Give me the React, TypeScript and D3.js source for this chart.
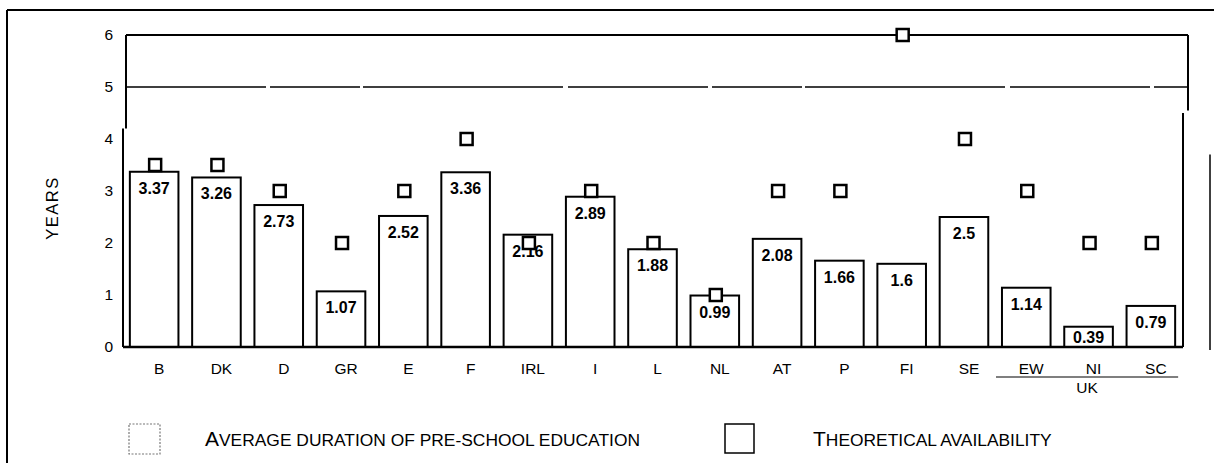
import React from "react";
import * as d3 from "d3";

const categories = ["B", "DK", "D", "GR", "E", "F", "IRL", "I", "L", "NL", "AT", "P", "FI", "SE", "EW", "NI", "SC"];
const avgDuration = [3.37, 3.26, 2.73, 1.07, 2.52, 3.36, 2.16, 2.89, 1.88, 0.99, 2.08, 1.66, 1.6, 2.5, 1.14, 0.39, 0.79];
const theoretical = [3.5, 3.5, 3, 2, 3, 4, 2, 3, 2, 1, 3, 3, 6, 4, 3, 2, 2];
const yTicks = [0, 1, 2, 3, 4, 5, 6];
const ukGroup = ["EW", "NI", "SC"];

const W = 1214;
const H = 463;
const FONT = "'Liberation Sans', Arial, Helvetica, sans-serif";

export default function App() {
  const x = d3.scaleBand<string>().domain(categories).range([123, 1182]).paddingInner(0.22).paddingOuter(0.11);
  const y = d3.scaleLinear().domain([0, 6]).range([347, 35]);
  const bw = x.bandwidth();
  const sq = 12;

  const ukStart = (x(ukGroup[0]) as number) - 6;
  const ukEnd = (x(ukGroup[2]) as number) + bw + 3;

  return (
    <svg width={W} height={H} style={{ position: "absolute", left: 0, top: 0, background: "#fff" }} fontFamily={FONT}>
      <rect x={0} y={0} width={W} height={H} fill="#fff" />
      {/* outer frame */}
      <line x1={7} y1={10} x2={W} y2={10} stroke="#000" strokeWidth={2} />
      <line x1={7} y1={10} x2={7} y2={H} stroke="#000" strokeWidth={2} />

      {/* upper frame */}
      <line x1={126} y1={y(6)} x2={1188} y2={y(6)} stroke="#000" strokeWidth={2} />
      <line x1={126} y1={y(6)} x2={126} y2={y(4.2)} stroke="#000" strokeWidth={2} />
      <line x1={1188} y1={y(6)} x2={1188} y2={y(4.55)} stroke="#000" strokeWidth={2} />
      <line x1={126} y1={y(5)} x2={1187} y2={y(5)} stroke="#000" strokeWidth={1.3} strokeDasharray="140 4 90 3 200 5" />

      {/* lower frame */}
      <line x1={123} y1={y(4.2)} x2={123} y2={y(0)} stroke="#000" strokeWidth={2} />
      <line x1={1183} y1={y(4.5)} x2={1183} y2={y(0)} stroke="#000" strokeWidth={2} />
      <line x1={1210} y1={y(3.7)} x2={1210} y2={y(0) + 3} stroke="#000" strokeWidth={1.5} />

      {/* y ticks */}
      {yTicks.map((t) => (
        <text key={t} x={113} y={y(t) + 5} textAnchor="end" fontSize={15.5}>
          {t}
        </text>
      ))}
      <text transform={`translate(58, ${208}) rotate(-90)`} textAnchor="middle" fontSize={16.5} letterSpacing={1.5}>
        YEARS
      </text>

      {/* bars */}
      {categories.map((c, i) => {
        const x0 = x(c) as number;
        const top = y(avgDuration[i]);
        const ly = Math.min(top + 22, y(0) - 4);
        return (
          <g key={c}>
            <rect x={x0} y={top} width={bw} height={y(0) - top} fill="#fff" stroke="#000" strokeWidth={2} />
            <text x={x0 + bw / 2} y={ly} textAnchor="middle" fontSize={16} fontWeight="bold">
              {avgDuration[i]}
            </text>
          </g>
        );
      })}

      {/* baseline */}
      <line x1={123} y1={y(0)} x2={1183} y2={y(0)} stroke="#000" strokeWidth={2.5} />

      {/* theoretical markers */}
      {categories.map((c, i) => {
        const cx = (x(c) as number) + bw / 2 + 1;
        const cy = y(theoretical[i]);
        return (
          <rect key={c} x={cx - sq / 2} y={cy - sq / 2} width={sq} height={sq} fill="#fff" stroke="#000" strokeWidth={2.5} />
        );
      })}

      {/* x labels */}
      {categories.map((c) => (
        <text key={c} x={(x(c) as number) + bw / 2 + 5} y={374} textAnchor="middle" fontSize={15.5}>
          {c}
        </text>
      ))}
      <line x1={ukStart} y1={377} x2={ukEnd} y2={377} stroke="#000" strokeWidth={1.2} />
      <text x={(ukStart + ukEnd) / 2} y={393} textAnchor="middle" fontSize={15.5}>
        UK
      </text>

      {/* legend */}
      <rect x={129} y={424} width={31} height={30} fill="#fff" stroke="#777" strokeWidth={1.2} strokeDasharray="2 1.5" />
      <text x={205} y={446} fontSize={17.4}>
        <tspan fontSize={21}>A</tspan>VERAGE DURATION OF PRE-SCHOOL EDUCATION
      </text>
      <rect x={725} y={424} width={29} height={29} fill="#fff" stroke="#000" strokeWidth={1.5} />
      <text x={813} y={446} fontSize={17.4}>
        <tspan fontSize={21}>T</tspan>HEORETICAL AVAILABILITY
      </text>
    </svg>
  );
}
